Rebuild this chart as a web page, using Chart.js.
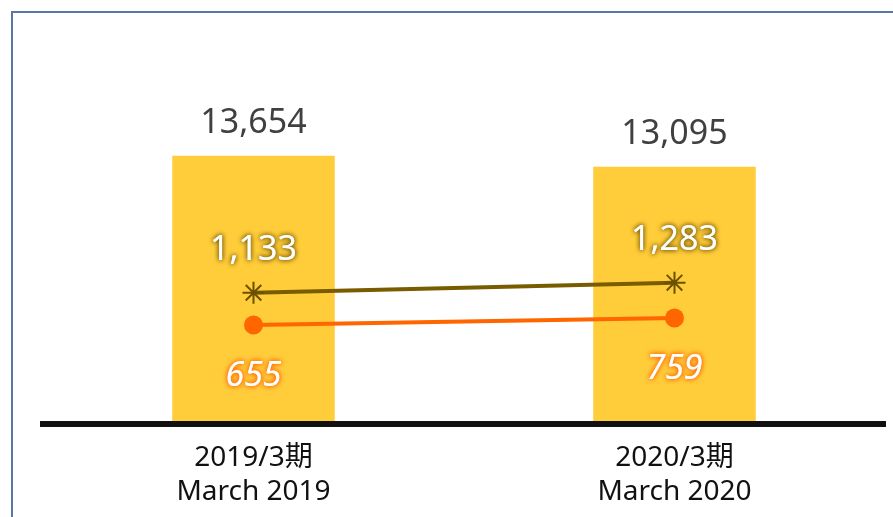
<!DOCTYPE html>
<html>
<head>
<meta charset="utf-8">
<script src="https://cdn.jsdelivr.net/npm/chart.js@4.4.0/dist/chart.umd.min.js"></script>
<style>
html, body { margin: 0; padding: 0; background: #fff; }
#area { position: relative; width: 893px; height: 517px; overflow: hidden; }
#moldura { position: absolute; left: 11px; top: 11px; width: 900px; height: 520px;
  border-left: 2px solid #5a77a0; border-top: 2px solid #5a77a0; }
#grafico { position: absolute; left: 0; top: 0; }
</style>
</head>
<body>
<div id="area">
  <div id="moldura"></div>
  <canvas id="grafico" width="893" height="517"></canvas>
</div>
<script>
// dados do gráfico
const periodos = [['2019/3期', 'March 2019'], ['2020/3期', 'March 2020']];
const valoresBarras = [13654, 13095];
const valoresLinhaA = [1133, 1283];
const valoresLinhaB = [655, 759];

const fonte = '"Noto Sans", "Noto Sans CJK JP", sans-serif';

// rótulos dos valores (desenhados por cima das séries)
const rotulos = {
  id: 'rotulos',
  afterDatasetsDraw(chart) {
    const ctx = chart.ctx;
    chart.data.datasets.forEach((ds, i) => {
      const r = ds.rotulo;
      if (!r) return;
      chart.getDatasetMeta(i).data.forEach((el, j) => {
        const texto = ds.data[j].toLocaleString('en-US');
        ctx.save();
        ctx.font = r.font;
        ctx.textAlign = 'center';
        ctx.textBaseline = 'middle';
        ctx.fillStyle = r.cor;
        if (r.brilho) {
          ctx.shadowColor = r.brilho;
          ctx.shadowBlur = 5;
          ctx.fillText(texto, el.x, el.y + r.dy);
        }
        ctx.fillText(texto, el.x, el.y + r.dy);
        ctx.restore();
      });
    });
  }
};

new Chart(document.getElementById('grafico'), {
  data: {
    labels: periodos,
    datasets: [
      {
        type: 'line', data: valoresLinhaA, yAxisID: 'y2', order: 1,
        borderColor: '#7a5c00', borderWidth: 4,
        pointStyle: 'star', pointRadius: 11, pointBorderColor: '#6b5000', pointBorderWidth: 2,
        rotulo: { dy: -42, font: '34px ' + fonte, cor: '#ffffff', brilho: '#7a5c00' }
      },
      {
        type: 'line', data: valoresLinhaB, yAxisID: 'y2', order: 1,
        borderColor: '#ff6600', borderWidth: 4,
        pointStyle: 'circle', pointRadius: 9.5, pointBackgroundColor: '#ff6600', pointBorderColor: '#ff6600', pointBorderWidth: 0,
        rotulo: { dy: 51, font: 'italic 34px ' + fonte, cor: '#ffffff', brilho: '#ff6600' }
      },
      {
        type: 'bar', data: valoresBarras, yAxisID: 'y', order: 2,
        backgroundColor: '#ffcc3a', categoryPercentage: 1, barPercentage: 0.386,
        rotulo: { dy: -32, font: '34px ' + fonte, cor: '#404040' }
      }
    ]
  },
  options: {
    responsive: false,
    animation: false,
    layout: { autoPadding: false, padding: { left: 43, right: 8, top: 31, bottom: 0 } },
    plugins: { legend: { display: false }, tooltip: { enabled: false } },
    scales: {
      x: {
        grid: { display: false },
        border: { display: true, color: '#111111', width: 6, z: 1 },
        ticks: { color: '#111111', padding: 9, font: { family: fonte, size: 28, lineHeight: 1.22 } },
        afterFit: (s) => { s.height = 93; s.paddingLeft = 0; s.paddingRight = 0; }
      },
      y: { display: false, min: 0, max: 20000 },
      y2: { display: false, min: -815, max: 5020 }
    }
  },
  plugins: [rotulos]
});
</script>
</body>
</html>
